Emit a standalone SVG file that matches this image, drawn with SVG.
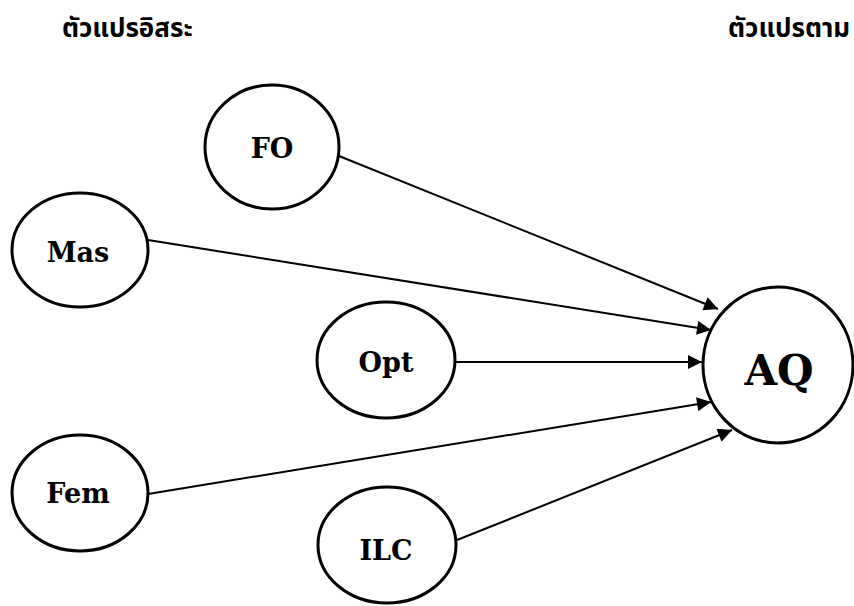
<svg xmlns="http://www.w3.org/2000/svg" width="854" height="606" viewBox="0 0 854 606">
<style>
.n{fill:#fff;stroke:#000;stroke-width:3}
.l{font-family:"DejaVu Serif",serif;font-weight:bold;font-size:27px;text-anchor:middle;fill:#000}
.h{font-family:"Noto Sans Thai","Noto Sans","DejaVu Sans",sans-serif;font-weight:bold;font-size:26px;fill:#000}
.e{stroke:#000;stroke-width:2;fill:none;marker-end:url(#a)}
</style>
<defs>
<marker id="a" viewBox="0 0 10 10" refX="10" refY="5" markerWidth="9" markerHeight="7" markerUnits="strokeWidth" orient="auto">
<path d="M0,0L10,5L0,10z" fill="#000"/>
</marker>
</defs>
<text class="h" x="62" y="37">ตัวแปรอิสระ</text>
<text class="h" x="850" y="37" text-anchor="end">ตัวแปรตาม</text>
<g id="edges">
<line class="e" x1="339" y1="156" x2="718" y2="309"/>
<line class="e" x1="148" y1="240" x2="711" y2="330"/>
<line class="e" x1="455" y1="362" x2="702" y2="362"/>
<line class="e" x1="148" y1="494" x2="711" y2="402"/>
<line class="e" x1="457" y1="540" x2="732" y2="430"/>
</g>
<g id="FO"><ellipse class="n" cx="272" cy="147" rx="67" ry="62"/><text class="l" x="272" y="158">FO</text></g>
<g id="Mas"><ellipse class="n" cx="80" cy="250" rx="68" ry="57"/><text class="l" x="78" y="262">Mas</text></g>
<g id="Opt"><ellipse class="n" cx="386" cy="360" rx="69" ry="58"/><text class="l" x="386" y="372">Opt</text></g>
<g id="Fem"><ellipse class="n" cx="80" cy="493" rx="68" ry="58"/><text class="l" x="78" y="503">Fem</text></g>
<g id="ILC"><ellipse class="n" cx="387" cy="545" rx="69" ry="58"/><text class="l" x="386" y="560">ILC</text></g>
<g id="AQ"><ellipse class="n" cx="778" cy="365" rx="75" ry="78"/><text class="l" x="779" y="385" style="font-size:42px">AQ</text></g>
</svg>
